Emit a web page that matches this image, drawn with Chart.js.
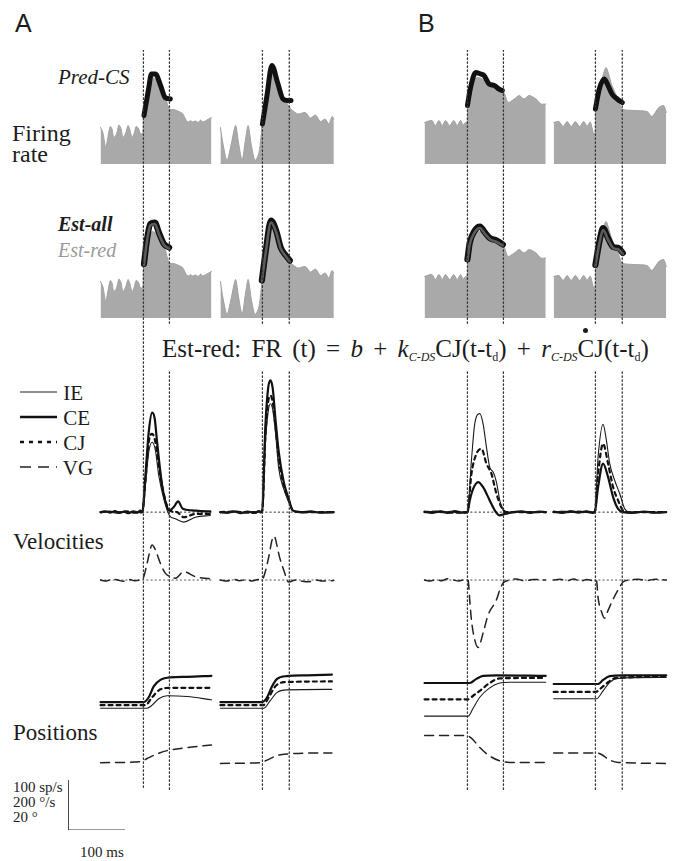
<!DOCTYPE html>
<html>
<head>
<meta charset="utf-8">
<script src="https://cdn.jsdelivr.net/npm/chart.js@4.4.0/dist/chart.umd.min.js"></script>
<style>
  body { margin:0; width:676px; height:861px; position:relative; overflow:hidden; background:#fff;
         font-family:"Liberation Serif","DejaVu Serif",serif; color:#1c1c1c; }
  .box { position:absolute; }
  .lbl { position:absolute; white-space:nowrap; line-height:1; }
  .sans { font-family:"Liberation Sans",Arial,sans-serif; }
  .eq { word-spacing:4px; }
  .eq sub { font-size:12px; vertical-align:-4px; }
  .eq sub.it { font-style:italic; }
  .cd { position:relative; display:inline-block; }
  .cd .dt { position:absolute; left:calc(50% - 2.5px); top:-8px; width:5px; height:5px; border-radius:50%; background:#1c1c1c; }
</style>
</head>
<body>

<div class="lbl sans" style="left:15px;top:11px;font-size:25px">A</div>
<div class="lbl sans" style="left:418px;top:11px;font-size:25px">B</div>
<div class="lbl" style="left:58px;top:67px;font-size:21px;font-style:italic">Pred-CS</div>
<div class="lbl" style="left:12px;top:121px;font-size:24px">Firing</div>
<div class="lbl" style="left:12px;top:142px;font-size:24px">rate</div>
<div class="lbl" style="left:58px;top:214px;font-size:20px;font-style:italic;font-weight:bold">Est-all</div>
<div class="lbl" style="left:58px;top:240px;font-size:20px;font-style:italic;color:#9a9a9a">Est-red</div>

<div class="lbl eq" style="left:162px;top:336px;font-size:25px">Est-red: FR (t) = <i>b</i> + <i>k</i><sub class="it">C-DS</sub>CJ(t-t<sub>d</sub>) + <i>r</i><sub class="it">C-DS</sub><span class="cd">C<span class="dt"></span></span>J(t-t<sub>d</sub>)</div>

<div class="lbl" style="left:20px;top:383px;font-size:21px">
  <svg width="38" height="12" style="vertical-align:2px"><line x1="0" y1="6" x2="37" y2="6" stroke="#222" stroke-width="1.2"/></svg> IE</div>
<div class="lbl" style="left:20px;top:408px;font-size:21px">
  <svg width="38" height="12" style="vertical-align:2px"><line x1="0" y1="6" x2="37" y2="6" stroke="#111" stroke-width="2.4"/></svg> CE</div>
<div class="lbl" style="left:20px;top:433px;font-size:21px">
  <svg width="38" height="12" style="vertical-align:2px"><line x1="0" y1="6" x2="37" y2="6" stroke="#111" stroke-width="2.4" stroke-dasharray="4 5"/></svg> CJ</div>
<div class="lbl" style="left:20px;top:458px;font-size:21px">
  <svg width="38" height="12" style="vertical-align:2px"><line x1="0" y1="6" x2="37" y2="6" stroke="#222" stroke-width="1.6" stroke-dasharray="11 7"/></svg> VG</div>

<div class="lbl" style="left:13px;top:530px;font-size:23px">Velocities</div>
<div class="lbl" style="left:13px;top:721px;font-size:23px">Positions</div>

<div class="lbl" style="left:13px;top:780px;font-size:15px">100 sp/s</div>
<div class="lbl" style="left:13px;top:795px;font-size:15px">200 °/s</div>
<div class="lbl" style="left:13px;top:810px;font-size:15px">20 °</div>
<div class="lbl" style="left:80px;top:845px;font-size:15px">100 ms</div>

<script>
// time in ms from saccade onset, rates in sp/s, velocities in deg/s, positions in deg
const offsetTimes = [45.5, 47, 63, 47];

// ---- column A1
const a1Rate = [[-75,73],[-71,63],[-66,33],[-62,55],[-58,75],[-55,70],[-52,53],[-47,60],[-43,78],[-39,70],[-36,53],[-31,62],[-27,77],[-24,70],[-20,53],[-16,62],[-13,75],[-9,72],[-5,60],[-1,62],[0,97],[3,123],[9,157],[15,173],[21,170],[30,153],[38,137],[45,110],[53,109],[62,105],[69,100],[75,87],[79,84],[82,87],[86,84],[91,86],[96,83],[100,88],[104,84],[108,86],[114,90],[119,93]];
const a1PredCS = [[1,97],[9,150],[14,180],[21,180],[30,157],[38,133],[47,130]];
const a1EstAll = [[1,108],[6,155],[12,188],[20,191],[27,171],[36,148],[45,141]];
const a1EstRed = [[1,106],[6,152],[12,185],[20,188],[27,168],[36,146],[45,139]];
const a1VelIE = [[-75,-2],[-62,2],[-50,-3],[-38,2],[-26,-2],[-14,3],[-2,0],[3.5,105],[9.3,235],[15.2,274],[21,242],[26.8,144],[35.6,52],[45.5,-13],[56,-26],[70.6,-39],[91,-20],[117,-13]];
const a1VelCE = [[-75,0],[-66,3],[-58,-2],[-50,4],[-42,-3],[-34,2],[-26,-4],[-18,3],[-10,-2],[-6,6],[-2,0],[3.5,144],[9.3,314],[15.2,390],[19.8,366],[23.9,274],[32.7,105],[41.4,20],[45.5,7],[53.1,20],[60.7,42],[68.8,13],[85,7],[100,4],[117,3]];
const a1VelCJ = [[-75,0],[-60,2],[-45,-2],[-30,3],[-15,-2],[-2,0],[3.5,124],[9.3,274],[15.2,307],[21,274],[26.8,183],[35.6,72],[45.5,7],[58.9,0],[70.6,-20],[91,-7],[117,-7]];
const a1VelVG = [[-75,0],[-65,-4],[-55,3],[-45,0],[-35,-5],[-25,2],[-15,-3],[-5,2],[0.6,13],[6.4,65],[15.2,137],[21,118],[29.75,65],[38.5,26],[47.25,13],[56,7],[70.6,33],[91,13],[108.5,7],[117,5]];
const a1PosIE = [[-75,28.1],[6.4,28.1],[15.2,29.3],[26.8,31.8],[41.4,33.0],[76.4,32.7],[119,31.4]];
const a1PosCE = [[-75,30.5],[0.6,30.5],[9.3,32.4],[18,36.7],[29.75,39.2],[47.25,40.2],[76.4,40.4],[119,40.8]];
const a1PosCJ = [[-75,29.3],[3.5,29.3],[15.2,32.4],[29.75,35.5],[47.25,36.1],[119,36.1]];
const a1PosVG = [[-75,6.8],[-5,7.2],[6.4,8.4],[23.9,10.2],[41.4,11.5],[76.4,12.7],[119,13.7]];

// ---- column A2
const a2Rate = [[-73.5,73],[-69,40],[-62,7],[-54.5,40],[-47,77],[-41.5,40],[-35.5,7],[-29.5,50],[-25,77],[-19,35],[-13,7],[-6.5,20],[-2,60],[0.5,95],[8,145],[16.5,180],[25,165],[33.5,140],[44,120],[50,110],[62,100],[75,103],[84,92],[93,98],[101.5,85],[110,90],[116,80],[122,95],[125,90]];
const a2PredCS = [[0,80],[8,137],[16.5,197],[26.5,163],[36,130],[44,127],[50,127]];
const a2EstAll = [[-1,75],[6,135],[15,195],[24,175],[32,141],[41,125],[48,115]];
const a2EstRed = [[-1,73],[6,132],[15,191],[24,172],[32,139],[41,123],[48,113]];
const a2VelIE = [[-73.5,-2],[-55,2],[-35,-2],[-15,2],[-0.6,0],[5.25,274],[9.9,390],[14,425],[18.1,400],[22.75,314],[28.6,170],[37.3,91],[46.1,39],[54.8,3],[69.4,-3],[100,0],[124.8,-2]];
const a2VelCE = [[-73.5,0],[-62,-3],[-50,3],[-38,-4],[-26,2],[-14,-3],[-6,4],[-0.6,0],[5.25,340],[9.9,484],[14,516],[18.1,484],[22.75,366],[28.6,235],[37.3,118],[46.1,52],[53.1,7],[69.4,0],[85,3],[100,-2],[124.8,0]];
const a2VelCJ = [[-73.5,0],[-50,2],[-25,-2],[-0.6,0],[5.25,300],[9.9,430],[14,457],[18.1,430],[22.75,340],[28.6,209],[37.3,105],[46.1,46],[54.8,3],[80,0],[124.8,0]];
const a2VelVG = [[-73.5,0],[-62,-4],[-50,3],[-40,-3],[-28,2],[-18,-4],[-8,2],[-2,0],[2.3,13],[11.1,91],[16.9,157],[21,172],[25,140],[30,90],[37.3,39],[46.1,-8],[57.75,0],[70,-5],[81,-7],[95,0],[104.4,-4],[124.8,-2]];
const a2PosIE = [[-73.5,28.1],[2.3,28.1],[14,31.2],[25.7,34.3],[43.1,35.3],[121.6,35.5]];
const a2PosCE = [[-73.5,30.5],[-0.6,30.5],[8.2,32.4],[16.9,36.7],[25.7,39.6],[43.1,40.7],[78.1,41.0],[121.6,41.3]];
const a2PosCJ = [[-73.5,29.3],[1.2,29.3],[11.1,32.4],[22.75,36.7],[37.3,38.3],[121.6,38.6]];
const a2PosVG = [[-73.5,6.5],[-3.5,6.8],[8.2,7.8],[25.7,9.6],[43.1,10.2],[110,10.6],[121.6,10.6]];

// ---- column B1
const b1Rate = [[-75,83],[-68,86],[-62,87],[-56,77],[-50,87],[-44,77],[-38.5,87],[-31,77],[-24,87],[-18,77],[-12,87],[-7.5,78],[-3.5,83],[-0.5,84],[0.5,117],[5.5,160],[17,173],[26,170],[35,160],[43.5,153],[55,150],[64,143],[71,123],[82,130],[90.5,137],[99,130],[108,137],[120,130],[128.5,120],[137,120]];
const b1PredCS = [[0,117],[5.5,153],[14.5,183],[23,180],[29,177],[38,160],[47,157],[55,150],[61,147]];
const b1EstAll = [[0,117],[4,150],[13,175],[22,183],[30,172],[39,160],[51,155],[62,147]];
const b1EstRed = [[0,115],[4,147],[13,172],[22,180],[30,169],[39,158],[51,152],[62,145]];
const b1VelIE = [[-75,0],[-60,3],[-45,-2],[-30,3],[-15,-3],[-3,2],[0,0],[7,203],[12.8,346],[21.6,386],[27.4,346],[33.25,255],[39,176],[45,157],[50.75,118],[56.6,46],[62.4,7],[68.25,-7],[79.9,0],[100,2],[137,0]];
const b1VelCE = [[-75,2],[-62,-3],[-48,3],[-35,-3],[-22,4],[-10,-2],[0,0],[4.1,46],[9.9,91],[18.7,118],[27.4,98],[39,46],[47.8,7],[56.6,-13],[65.3,-7],[79.9,0],[95,3],[110,-3],[125,2],[137,0]];
const b1VelCJ = [[-75,0],[-50,2],[-25,-2],[0,0],[7,150],[15.75,229],[24.5,248],[33.25,190],[42,150],[50.75,72],[59.5,20],[68.25,0],[100,0],[137,0]];
const b1VelVG = [[-75,0],[-65,-4],[-55,2],[-45,-3],[-35,5],[-25,0],[-15,-4],[-5,2],[1,0],[4,-78],[7,-157],[12.8,-235],[18.7,-265],[27.4,-208],[36.2,-137],[50.75,-78],[56.6,-39],[62.4,-12],[74,0],[85,4],[100,-3],[115,2],[137,0]];
const b1PosIE = [[-75,25.0],[1.2,25.0],[9.9,28.1],[21.6,32.4],[39,36.1],[56.6,38.0],[74,38.3],[137,38.3]];
const b1PosCE = [[-75,38.0],[4.1,38.0],[15.75,39.6],[27.4,40.8],[50.75,41.0],[137,40.8]];
const b1PosCJ = [[-75,31.6],[1.2,31.6],[9.9,33.0],[21.6,34.9],[39,38.0],[56.6,39.8],[137,40.0]];
const b1PosVG = [[-75,17.4],[-1.75,17.4],[7,16.4],[21.6,12.7],[39,9.4],[56.6,7.5],[74,6.9],[137,6.9]];

// ---- column B2
const b2Rate = [[-73,83],[-64,85],[-56.5,75],[-49.5,85],[-42.5,75],[-35,85],[-27.5,75],[-20.5,85],[-14.5,76],[-9,84],[-3,60],[-0.5,62],[0.5,110],[3,123],[11.7,170],[18.7,193],[29,157],[40.8,127],[46.7,110],[67,107],[90.5,105],[99,95],[111,113],[119.6,117],[124,103]];
const b2PredCS = [[0,110],[6.8,150],[15.5,170],[21,160],[29,140],[38,130],[47,123]];
const b2EstAll = [[0,106],[7.6,156],[13.4,180],[22,160],[31,142],[40,140],[48,130]];
const b2EstRed = [[0,104],[7.6,153],[13.4,176],[22,157],[31,140],[40,137],[48,128]];
const b2VelIE = [[-73,0],[-60,3],[-48,-2],[-35,3],[-22,-2],[-10,3],[-1.2,0],[4.7,216],[13.4,344],[19.25,281],[25.1,190],[33.8,124],[42.6,72],[51.3,13],[60.1,0],[80,2],[100,-2],[124,0]];
const b2VelCE = [[-73,2],[-58,-3],[-44,3],[-30,-2],[-16,3],[-5,-3],[-1.2,0],[4.7,98],[13.4,190],[22.2,137],[31,59],[39.7,13],[48.4,0],[65,-3],[85,2],[105,-2],[124,0]];
const b2VelCJ = [[-73,0],[-40,2],[-1.2,0],[4.7,150],[13.4,268],[22.2,190],[31,98],[39.7,46],[48.4,7],[60,0],[124,0]];
const b2VelVG = [[-73,0],[-62,3],[-50,-3],[-38,4],[-26,-5],[-15,2],[-5,-2],[1.75,0],[4.7,-70],[10,-120],[16,-150],[22,-120],[30,-80],[39.7,-39],[48.4,-8],[60.1,0],[75,3],[90,-2],[105,3],[124,0]];
const b2PosIE = [[-73,31.8],[1.75,31.8],[13.4,34.9],[25.1,38.3],[39.7,39.8],[124,40.2]];
const b2PosCE = [[-73,37.6],[4.7,37.6],[13.4,39.2],[25.1,40.7],[48.4,41.0],[124,41.0]];
const b2PosCJ = [[-73,34.5],[0.6,34.5],[10.5,36.1],[22.2,38.3],[36.75,40.0],[124,40.4]];
const b2PosVG = [[-73,10.6],[1.75,10.6],[10.5,10.0],[25.1,7.8],[39.7,6.9],[124,6.5]];

// scale bar: 100 ms by 100 sp/s
const scaleBarT = [0, 0, 100];
const scaleBarV = [100, 0, 0];

// ---- layout
const PX_PER_MS = 0.5714;
const T_MIN = -76;
const onsetPx = [143, 262, 467, 595];
const tMaxes = [120, 126, 138, 125];
const guideGaps = [[false, true], [true, true], [true, true], [true, true]];
const rows = {
  fr1:   { top: 44,  h: 120, min: 0,    max: 240 },
  fr2:   { top: 198, h: 120, min: 0,    max: 240 },
  vel:   { top: 370, h: 160, min: -70,  max: 557 },
  vg:    { top: 525, h: 135, min: -314, max: 216 },
  pos:   { top: 660, h: 120, min: 0,    max: 47 },
  guide: { top: 50,  h: 740, min: 0,    max: 740, reverse: true }
};

const columns = [
  { rate: a1Rate, pred: a1PredCS, estAll: a1EstAll, estRed: a1EstRed, vIE: a1VelIE, vCE: a1VelCE, vCJ: a1VelCJ, vVG: a1VelVG, pIE: a1PosIE, pCE: a1PosCE, pCJ: a1PosCJ, pVG: a1PosVG },
  { rate: a2Rate, pred: a2PredCS, estAll: a2EstAll, estRed: a2EstRed, vIE: a2VelIE, vCE: a2VelCE, vCJ: a2VelCJ, vVG: a2VelVG, pIE: a2PosIE, pCE: a2PosCE, pCJ: a2PosCJ, pVG: a2PosVG },
  { rate: b1Rate, pred: b1PredCS, estAll: b1EstAll, estRed: b1EstRed, vIE: b1VelIE, vCE: b1VelCE, vCJ: b1VelCJ, vVG: b1VelVG, pIE: b1PosIE, pCE: b1PosCE, pCJ: b1PosCJ, pVG: b1PosVG },
  { rate: b2Rate, pred: b2PredCS, estAll: b2EstAll, estRed: b2EstRed, vIE: b2VelIE, vCE: b2VelCE, vCJ: b2VelCJ, vVG: b2VelVG, pIE: b2PosIE, pCE: b2PosCE, pCJ: b2PosCJ, pVG: b2PosVG }
];

const pts = arr => arr.map(([x, y]) => ({ x, y }));
const PAD = 10;

function mountChart(left, top, w, h, xMin, xMax, row, datasets) {
  const div = document.createElement('div');
  div.className = 'box';
  div.style.cssText = `left:${left - PAD}px;top:${top - PAD}px;width:${w + 2 * PAD}px;height:${h + 2 * PAD}px`;
  const cv = document.createElement('canvas');
  div.appendChild(cv);
  document.body.appendChild(div);
  return new Chart(cv, {
    type: 'line',
    data: { datasets },
    options: {
      responsive: true,
      maintainAspectRatio: false,
      animation: false,
      events: [],
      layout: { padding: PAD },
      plugins: { legend: { display: false }, tooltip: { enabled: false } },
      elements: {
        point: { radius: 0 },
        line: { cubicInterpolationMode: 'monotone', borderCapStyle: 'round', borderJoinStyle: 'round' }
      },
      scales: {
        x: { type: 'linear', min: xMin, max: xMax, display: false },
        y: { min: row.min, max: row.max, reverse: !!row.reverse, display: false }
      }
    }
  });
}

function colChart(ci, row, datasets) {
  const left = onsetPx[ci] + T_MIN * PX_PER_MS;
  const w = (tMaxes[ci] - T_MIN) * PX_PER_MS;
  return mountChart(left, row.top, w, row.h, T_MIN, tMaxes[ci], row, datasets);
}

const line = (data, color, width, dash) => ({
  data: pts(data), borderColor: color, borderWidth: width, borderDash: dash || [], fill: false, clip: false
});
const grayRate = data => ({
  data: pts(data), borderColor: '#a0a0a0', borderWidth: 1, backgroundColor: '#a9a9a9',
  fill: 'origin', cubicInterpolationMode: 'default', tension: 0.25, clip: false
});
const zeroLine = ci => ({
  data: [{ x: T_MIN + 1, y: 0 }, { x: tMaxes[ci], y: 0 }], borderColor: '#555', borderWidth: 1.1,
  borderDash: [1.2, 3], cubicInterpolationMode: 'default', tension: 0, fill: false
});

columns.forEach((c, ci) => {
  colChart(ci, rows.fr1, [line(c.pred, '#111', 5), grayRate(c.rate)]);
  colChart(ci, rows.fr2, [line(c.estRed, '#5c5c5c', 2.6), line(c.estAll, '#111', 6.2), grayRate(c.rate)]);
  colChart(ci, rows.vel, [
    line(c.vIE, '#1a1a1a', 1.1), line(c.vCE, '#111', 2.2), line(c.vCJ, '#111', 2.2, [4, 4]), zeroLine(ci)
  ]);
  colChart(ci, rows.vg, [line(c.vVG, '#222', 1.5, [9, 6]), zeroLine(ci)]);
  colChart(ci, rows.pos, [
    line(c.pIE, '#1a1a1a', 1.1), line(c.pCE, '#111', 2.2), line(c.pCJ, '#111', 2.2, [4, 4]), line(c.pVG, '#222', 1.5, [9, 6])
  ]);
});

// dotted guides at saccade onset and offset, over everything
columns.forEach((c, ci) => {
  const g = rows.guide;
  const mk = (t, gap) => ({
    data: gap ? [{ x: t, y: 0 }, { x: t, y: 275 }, { x: t, y: null }, { x: t, y: 322 }, { x: t, y: g.max }]
              : [{ x: t, y: 0 }, { x: t, y: g.max }],
    borderColor: '#333', borderWidth: 1.3, borderDash: [1.3, 2.7],
    cubicInterpolationMode: 'default', tension: 0, spanGaps: false, fill: false
  });
  colChart(ci, g, [mk(0, guideGaps[ci][0]), mk(offsetTimes[ci], guideGaps[ci][1])]);
});

// scale bar
mountChart(68, 780, 57, 50, 0, 100, { min: 0, max: 100 }, [{
  data: scaleBarT.map((t, i) => ({ x: t, y: scaleBarV[i] })),
  borderColor: '#333', borderWidth: 1, tension: 0, cubicInterpolationMode: 'default', fill: false
}]);
</script>
</body>
</html>
